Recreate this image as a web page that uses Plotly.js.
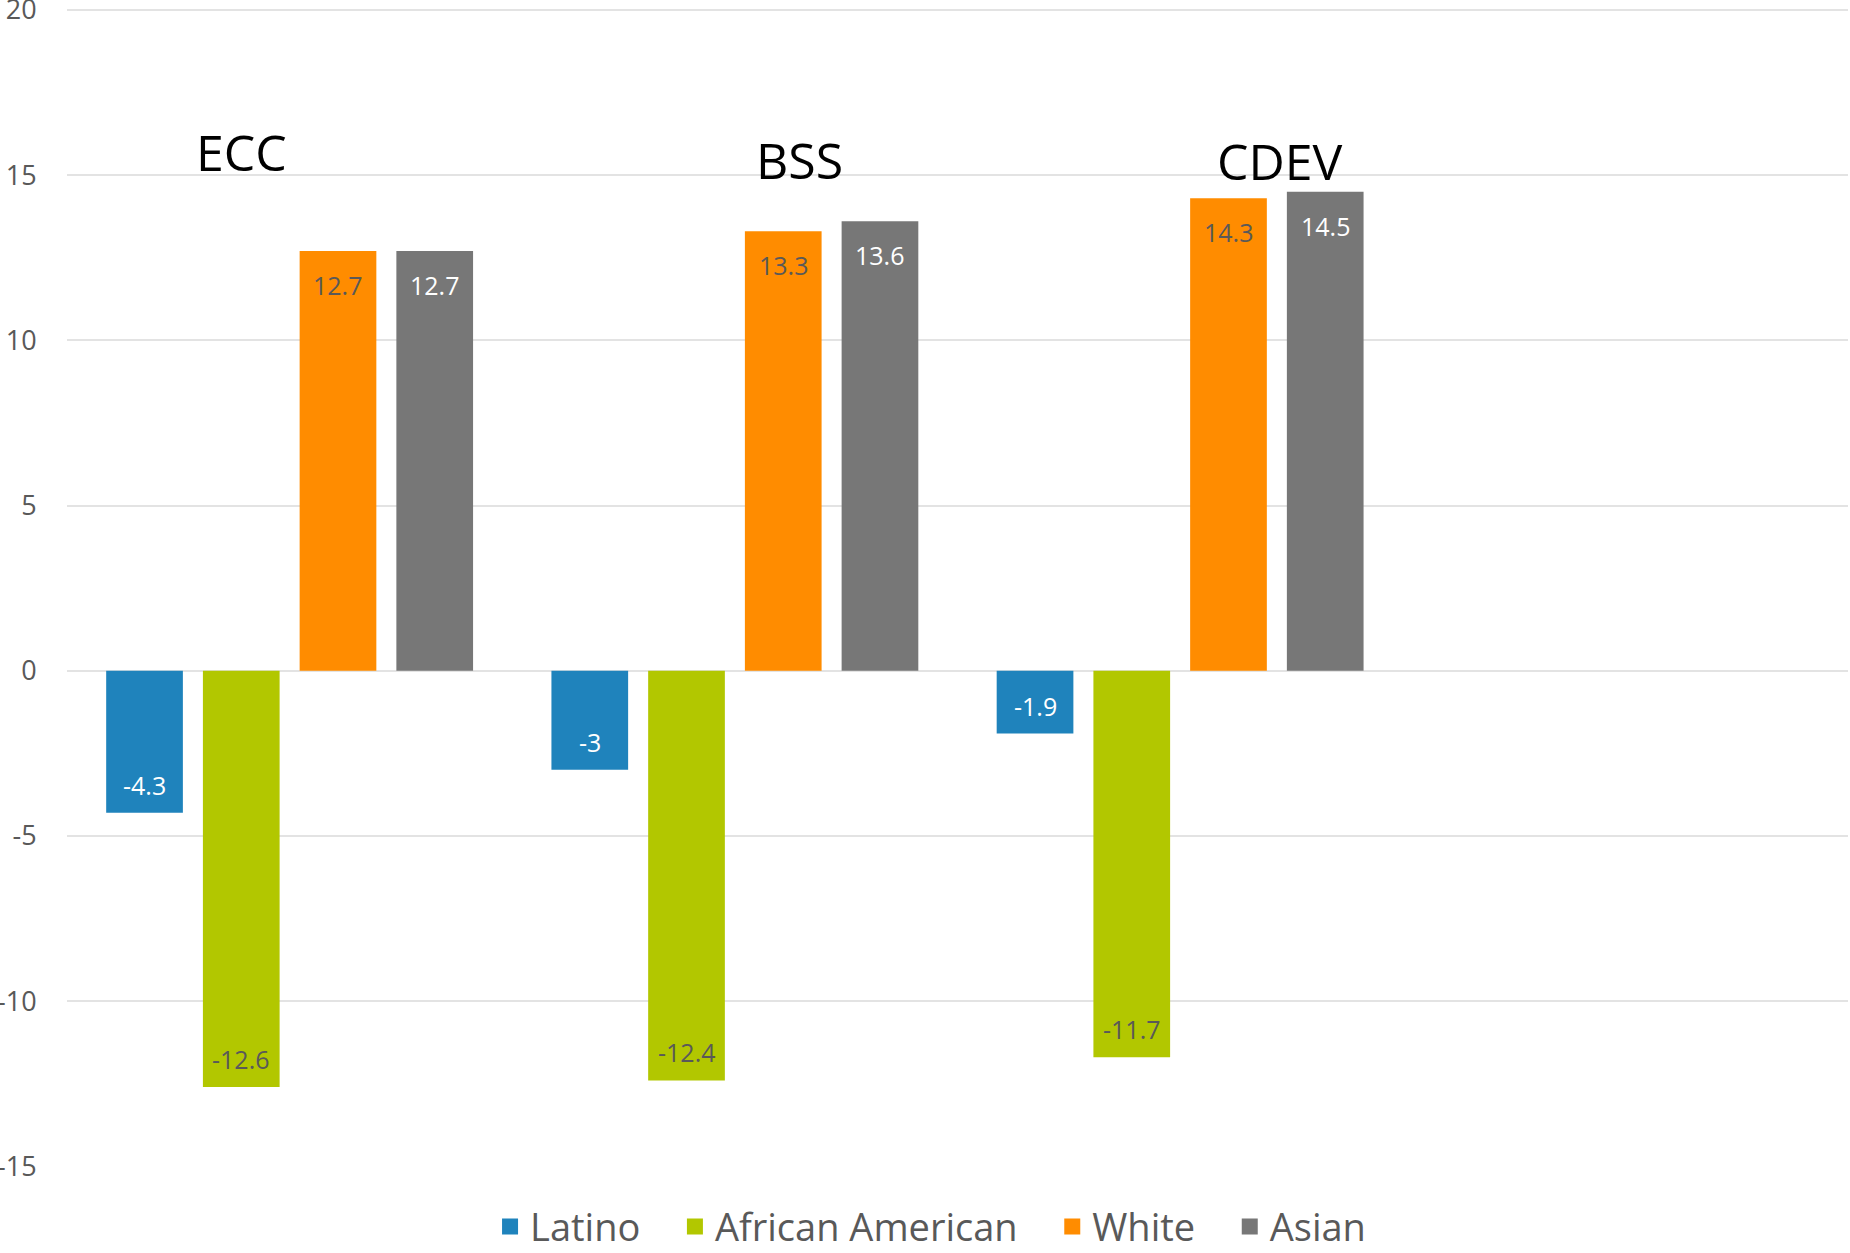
<!DOCTYPE html>
<html>
<head>
<meta charset="utf-8">
<script src="https://cdn.plot.ly/plotly-3.0.1.min.js"></script>
<style>html,body{margin:0;padding:0;background:#fff;}#chart{width:1850px;height:1253px;}</style>
</head>
<body>
<div id="chart"></div>
<script>
const categories = ["ECC", "BSS", "CDEV"];
const seriesNames = ["Latino", "African American", "White", "Asian"];
const latino = [-4.3, -3, -1.9];
const africanAmerican = [-12.6, -12.4, -11.7];
const white = [12.7, 13.3, 14.3];
const asian = [12.7, 13.6, 14.5];
const yTicks = [-15, -10, -5, 0, 5, 10, 15, 20];

const seriesValues = [latino, africanAmerican, white, asian];
const colors = ["#1f83bc", "#b2c700", "#ff8c00", "#777777"];
const labelColors = ["#ffffff", "#595959", "#595959", "#ffffff"];
const bargap = 0.131;
const slot = (1 - bargap) / seriesValues.length;

const barTraces = seriesValues.map((vals, i) => ({
  type: "bar",
  name: seriesNames[i],
  x: categories,
  y: vals,
  marker: {color: colors[i]},
  showlegend: false,
  legendgroup: seriesNames[i]
}));

// legend-only entries (bigger square swatches)
const legendTraces = seriesNames.map((n, i) => ({
  type: "scatter", mode: "markers",
  name: i < seriesNames.length - 1 ? n + "\u00a0\u00a0\u00a0" : n,
  x: [null], y: [null],
  marker: {symbol: "square", size: 22, color: colors[i]},
  legendgroup: n, showlegend: true
}));

const labelAnns = [];
seriesValues.forEach((vals, i) => {
  vals.forEach((v, j) => {
    labelAnns.push({
      xref: "x", yref: "y",
      x: j + (i - (seriesValues.length - 1) / 2) * slot,
      y: v,
      yshift: v >= 0 ? -34 : 28,
      text: String(v),
      showarrow: false,
      xanchor: "center", yanchor: "middle",
      font: {family: "Open Sans, sans-serif", size: 25, color: labelColors[i]}
    });
  });
});

const titleAnns = [
  {x: 0.098, y: 15.71, text: "ECC"},
  {x: 0.4115, y: 15.46, text: "BSS"},
  {x: 0.681, y: 15.43, text: "CDEV"}
].map(a => ({
  xref: "paper", yref: "y", x: a.x, y: a.y, text: a.text,
  showarrow: false, xanchor: "center", yanchor: "middle",
  font: {family: "Open Sans, sans-serif", size: 50, color: "#000000"}
}));

const layout = {
  width: 1850, height: 1253,
  margin: {l: 67, r: 2, t: 0, b: 86},
  paper_bgcolor: "#ffffff", plot_bgcolor: "#ffffff",
  barmode: "group",
  bargap: bargap,
  bargroupgap: 0.207,
  showlegend: true,
  legend: {
    orientation: "h", xref: "container", yref: "container",
    x: 0.503, xanchor: "center", y: 0.021, yanchor: "middle",
    font: {family: "Open Sans, sans-serif", size: 38, color: "#595959"},
    itemsizing: "trace", traceorder: "normal", bgcolor: "rgba(0,0,0,0)"
  },
  xaxis: {
    type: "category", range: [-0.5, 3.5], showticklabels: false,
    showgrid: false, zeroline: false, showline: false, ticks: "", fixedrange: true
  },
  yaxis: {
    range: [-15.02, 20.3], tickvals: yTicks, ticktext: yTicks.map(String),
    showgrid: true, gridcolor: "#e3e3e3", gridwidth: 2,
    zeroline: true, zerolinecolor: "#e3e3e3", zerolinewidth: 2,
    showline: false, ticks: "outside", ticklen: 24, tickcolor: "rgba(0,0,0,0)",
    ticklabeloverflow: "allow",
    tickfont: {family: "Open Sans, sans-serif", size: 27, color: "#595959"}
  },
  annotations: titleAnns.concat(labelAnns)
};

Plotly.newPlot("chart", barTraces.concat(legendTraces), layout, {staticPlot: true, displayModeBar: false});
</script>
</body>
</html>
